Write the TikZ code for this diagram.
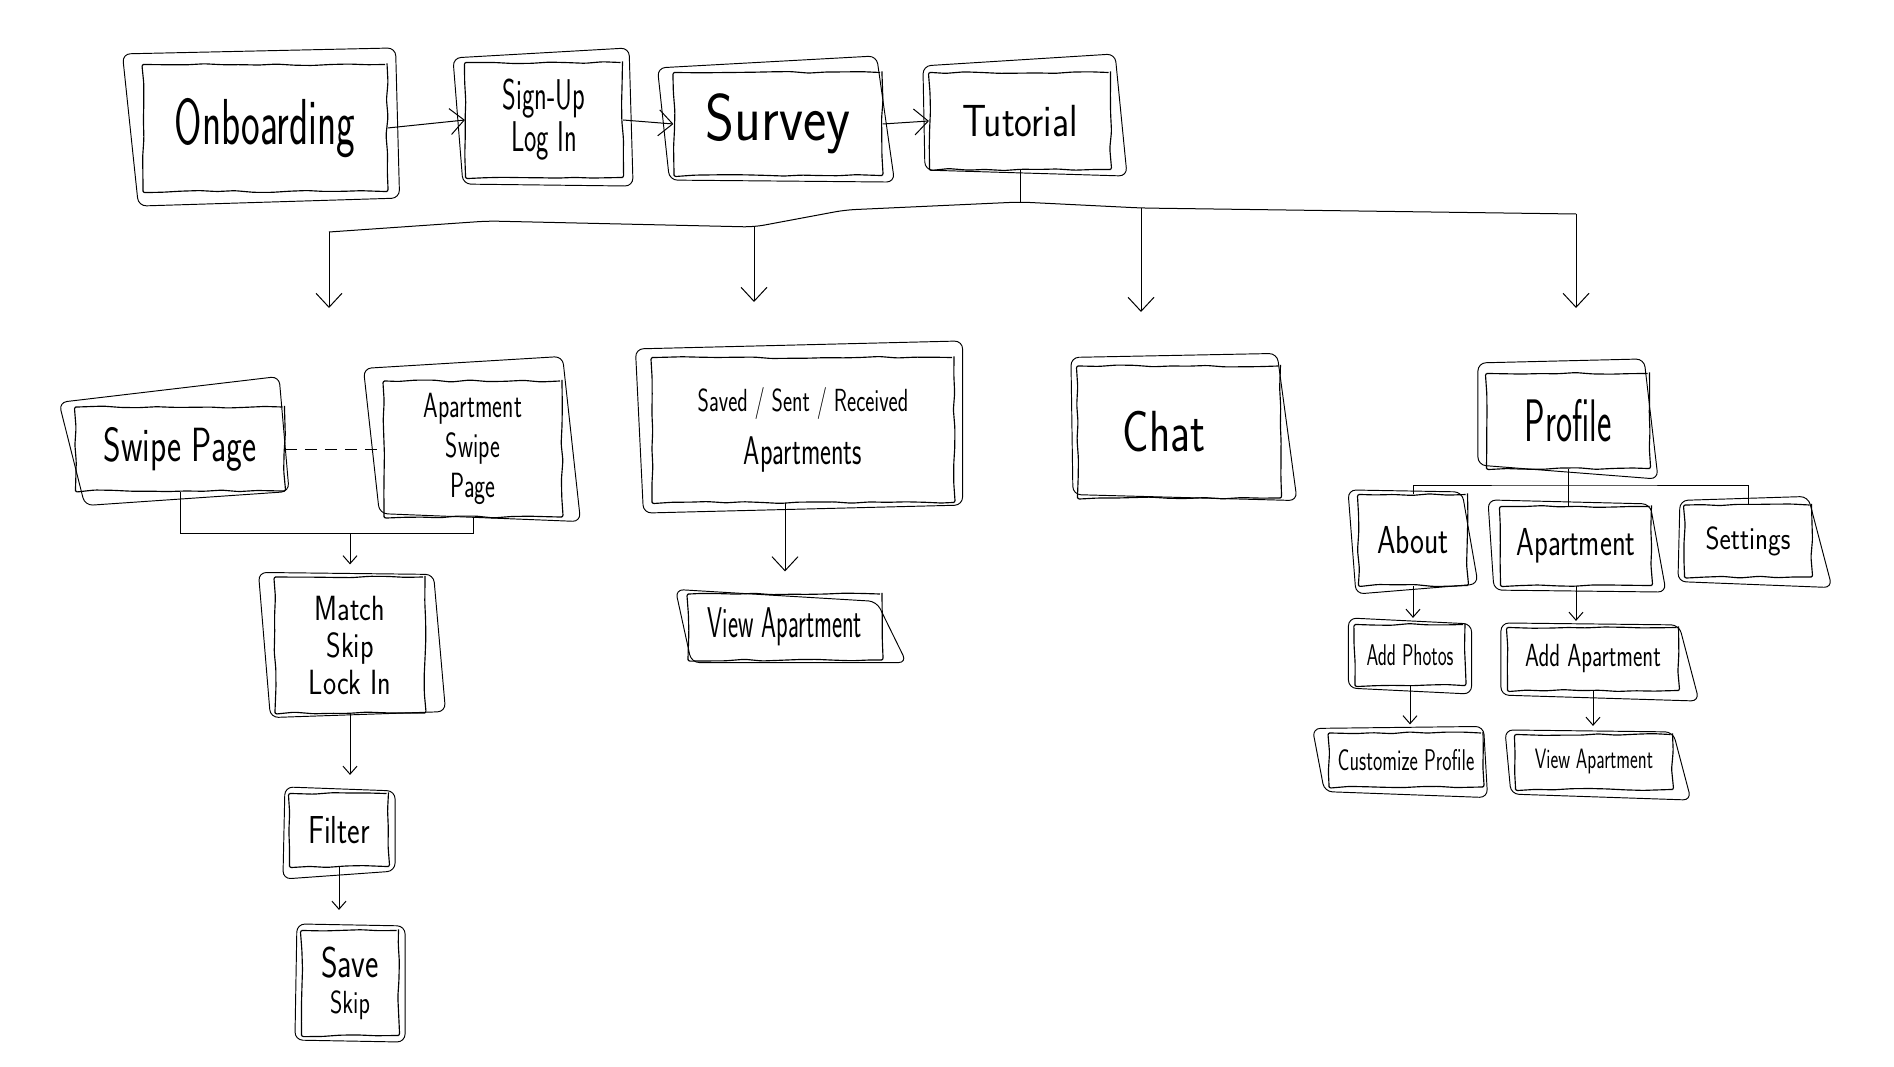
\documentclass[tikz,border=0pt]{standalone}
\usepackage{fontspec}
\usepackage{graphicx}
\usetikzlibrary{arrows.meta,decorations.pathmorphing,calc}
\newcommand{\hw}[2]{\scalebox{#1}[1]{#2}}
\newcommand{\fs}[2]{\sffamily\fontsize{#1}{#2}\selectfont}
\newcommand{\skout}[5]{\draw[skline] ([shift={(#2)}]#1.north west) -- ([shift={(#3)}]#1.north east) -- ([shift={(#4)}]#1.south east) -- ([shift={(#5)}]#1.south west) -- cycle;}
\begin{document}
\begin{tikzpicture}[x=1pt,y=-1pt,
  pagebox/.style={draw, line width=1.15pt, inner sep=0pt, align=center, decorate,
    decoration={random steps,segment length=18pt,amplitude=1pt}, rounded corners=2pt},
  skline/.style={line width=0.95pt, rounded corners=8pt},
  link/.style={line width=1pt},
  arrbig/.style={link, -{Straight Barb[length=14pt,width=26pt]}},
  arrsm/.style={link, -{Straight Barb[length=8pt,width=14pt]}}]
\pgfmathsetseed{7}
\fill[white] (0,0) rectangle (1894,1067);
\useasboundingbox (0,0) rectangle (1894,1067);

% top row
\node[pagebox, minimum width=244pt, minimum height=127pt, font=\fs{65}{70}] (onb) at (265,128) {\hw{0.61}{Onboarding}};
\node[pagebox, minimum width=157pt, minimum height=115pt, font=\fs{43}{42}] (sign) at (544,120) {\hw{0.61}{Sign-Up}\\\hw{0.61}{Log In}};
\node[pagebox, minimum width=208pt, minimum height=103pt, font=\fs{66}{70}] (surv) at (778,124) {\hw{0.84}{Survey}};
\node[pagebox, minimum width=181pt, minimum height=97pt, font=\fs{45}{50}] (tut) at (1020,121) {\hw{0.84}{Tutorial}};

% second row
\node[pagebox, minimum width=209pt, minimum height=84pt, font=\fs{48}{50}] (swipe) at (180,449) {\hw{0.7}{Swipe Page}};
\node[pagebox, minimum width=178pt, minimum height=136pt, font=\fs{35}{40}] (apsw) at (473,449) {\hw{0.67}{Apartment}\\\hw{0.67}{Swipe}\\\hw{0.67}{Page}};
\node[pagebox, minimum width=302pt, minimum height=145pt, font=\fs{32}{53}] (saved) at (803,430) {\hw{0.68}{Saved / Sent / Received}\\\hw{0.65}{\fontsize{40}{53}\selectfont Apartments}};
\node[pagebox, minimum width=203pt, minimum height=132pt, font=\fs{58}{60}] (chat) at (1179,432) {\hw{0.76}{Chat}\hspace*{30pt}};
\node[pagebox, minimum width=163pt, minimum height=95pt, font=\fs{60}{60}] (prof) at (1568,421) {\hw{0.57}{Profile}};

% swipe branch
\node[pagebox, minimum width=150pt, minimum height=136pt, font=\fs{35}{37}] (match) at (350,645) {\hw{0.8}{Match}\\\hw{0.8}{Skip}\\\hw{0.8}{Lock In}};
\node[pagebox, minimum width=99pt, minimum height=73pt, font=\fs{39}{40}] (filter) at (339,830) {\hw{0.77}{Filter}};
\node[pagebox, minimum width=97pt, minimum height=105pt, font=\fs{43}{36}] (save) at (350,983) {\hw{0.74}{Save}\\\hw{0.74}{\fontsize{32}{36}\selectfont Skip}};

% saved branch
\node[pagebox, minimum width=194pt, minimum height=66pt, font=\fs{43}{45}] (view1) at (785,627) {\hw{0.56}{View Apartment}};

% profile branch
\node[pagebox, minimum width=109pt, minimum height=91pt, font=\fs{39}{40}] (about) at (1413,540) {\hw{0.76}{About}};
\node[pagebox, minimum width=151pt, minimum height=79pt, font=\fs{39}{40}] (apt) at (1576,546) {\hw{0.73}{Apartment}};
\node[pagebox, minimum width=127pt, minimum height=72pt, font=\fs{32}{35}] (sett) at (1748,541) {\hw{0.84}{Settings}};
\node[pagebox, minimum width=110pt, minimum height=61pt, font=\fs{30}{32}] (addph) at (1410,655) {\hw{0.63}{Add Photos}};
\node[pagebox, minimum width=171pt, minimum height=63pt, font=\fs{32}{35}] (addap) at (1593,659) {\hw{0.7}{Add Apartment}};
\node[pagebox, minimum width=154pt, minimum height=54pt, font=\fs{30}{32}] (cust) at (1406,760) {\hw{0.66}{Customize Profile}};
\node[pagebox, minimum width=157pt, minimum height=55pt, font=\fs{28}{30}] (view2) at (1594,762) {\hw{0.66}{View Apartment}};

% sketchy second outlines
\skout{onb}{-20,-10}{8,-16}{12,6}{-4,14}
\skout{sign}{-12,-4}{6,-14}{10,8}{-2,6}
\skout{surv}{-16,-4}{-6,-16}{12,6}{-4,4}
\skout{tut}{-6,-6}{4,-18}{16,6}{-4,0}
\skout{swipe}{-16,-4}{-6,-30}{4,0}{10,14}
\skout{apsw}{-20,-12}{0,-24}{18,4}{-4,-4}
\skout{saved}{-16,-8}{8,-16}{8,2}{-8,10}
\skout{chat}{-6,-8}{-4,-12}{16,2}{-4,-4}
\skout{prof}{-8,-10}{-6,-14}{8,10}{-8,-4}
\skout{match}{-16,-4}{8,-2}{20,-2}{-4,4}
\skout{filter}{-4,-6}{6,-2}{6,4}{-6,12}
\skout{save}{-4,-6}{6,-4}{6,6}{-6,4}
\skout{view1}{-12,-4}{-6,8}{24,2}{4,2}
\skout{about}{-10,-4}{-6,-2}{10,-2}{-2,8}
\skout{apt}{-12,-6}{-2,-2}{14,6}{-6,4}
\skout{sett}{-4,-4}{-4,-8}{20,10}{-6,4}
\skout{addph}{-6,-6}{6,0}{6,8}{-6,2}
\skout{addap}{-6,-4}{0,-2}{20,10}{-6,4}
\skout{cust}{-16,-4}{0,-6}{4,10}{-4,4}
\skout{view2}{-10,-4}{0,-2}{18,10}{-4,4}

% top row arrows
\draw[arrbig] (onb.east) -- (sign.west);
\draw[arrbig] (sign.east) -- (surv.west);
\draw[arrbig] (surv.east) -- (tut.west);

% tutorial distribution bus
\coordinate (tj) at (1020,202);
\coordinate (b1) at (329,232);
\coordinate (b2) at (754,227);
\coordinate (b3) at (1141,208);
\coordinate (b4) at (1576,214);
\coordinate (a1) at (329,308);
\coordinate (a2) at (754,302);
\coordinate (a3) at (1141,312);
\coordinate (a4) at (1576,308);
\draw[link] (tut.south) -- (tj);
\draw[link, rounded corners=10pt] (b1) -- (488,221) -- (b2) -- (845,210) -- (tj) -- (b3) -- (b4);
\draw[arrbig] (b1) -- (a1);
\draw[arrbig] (b2) -- (a2);
\draw[arrbig] (b3) -- (a3);
\draw[arrbig] (b4) -- (a4);

% swipe pages
\draw[link, dashed, dash pattern=on 12pt off 8pt] (swipe.east) -- (apsw.west);
\coordinate (mj) at (350,533);
\draw[link] (swipe.south) -- (swipe.south |- mj) -| (apsw.south);
\draw[arrsm, shorten >=12pt] (mj) -- (match.north);
\draw[arrsm, shorten >=18pt] (match.south) -- (match.south |- filter.north);
\draw[arrsm, shorten >=20pt] (filter.south) -- (filter.south |- save.north);

% saved
\draw[arrbig, shorten >=22pt] (saved.south -| view1.north) -- (view1.north);

% profile tree
\coordinate (pb) at (1568,485);
\draw[link] (prof.south) -- (pb);
\draw[link] (about.north) |- (pb) -| (sett.north);
\draw[link] (pb) -- (pb |- apt.north);
\draw[arrsm, shorten >=6pt] (about.south) -- (about.south |- addph.north);
\draw[arrsm, shorten >=6pt] (apt.south) -- (apt.south |- addap.north);
\draw[arrsm, shorten >=8pt] (addph.south) -- (addph.south |- cust.north);
\draw[arrsm, shorten >=8pt] (addap.south) -- (addap.south |- view2.north);
\end{tikzpicture}
\end{document}
